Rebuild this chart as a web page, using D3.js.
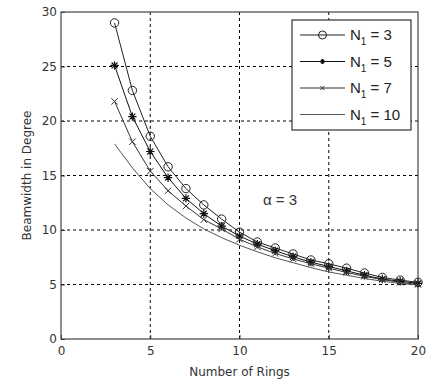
<!DOCTYPE html>
<html><head><meta charset="utf-8">
<script src="https://cdn.jsdelivr.net/npm/d3@7"></script>
<style>body{margin:0;background:#fff}svg{display:block}text{font-family:"Liberation Sans",Arial,sans-serif}</style>
</head><body>
<script>
const rings = [3,4,5,6,7,8,9,10,11,12,13,14,15,16,17,18,19,20];
const n1_3  = [29.0,22.8,18.6,15.8,13.8,12.3,11.0,9.8,8.9,8.35,7.8,7.25,6.9,6.5,6.05,5.65,5.4,5.2];
const n1_5  = [25.1,20.4,17.2,14.8,12.9,11.5,10.35,9.45,8.7,8.1,7.55,7.05,6.65,6.25,5.85,5.5,5.3,5.1];
const n1_7  = [21.8,18.1,15.4,13.6,12.2,10.95,10.1,9.15,8.45,7.85,7.35,6.9,6.5,6.1,5.75,5.45,5.2,5.0];
const n1_10 = [17.9,15.7,13.8,12.3,11.1,10.1,9.3,8.6,8.0,7.45,7.0,6.55,6.15,5.85,5.55,5.3,5.1,4.95];
const xTicks = [0,5,10,15,20];
const yTicks = [0,5,10,15,20,25,30];
const seriesNames = ["3","5","7","10"];
const alphaLabel = "α = 3";

const W=444,H=382, L=61,R=418,T=12,B=339;
const AF='"DejaVu Sans",Verdana,sans-serif';
const svg=d3.select("body").append("svg").attr("width",W).attr("height",H);
const x=d3.scaleLinear().domain([0,20]).range([L,R]);
const y=d3.scaleLinear().domain([0,30]).range([B,T]);

// grid
const g=svg.append("g");
g.selectAll(".gx").data(xTicks.slice(1,-1)).join("line")
 .attr("x1",d=>x(d)).attr("x2",d=>x(d)).attr("y1",T).attr("y2",B)
 .attr("stroke","#000").attr("stroke-width",1).attr("stroke-dasharray","3,3");
g.selectAll(".gy").data(yTicks.slice(1,-1)).join("line")
 .attr("y1",d=>y(d)).attr("y2",d=>y(d)).attr("x1",L).attr("x2",R)
 .attr("stroke","#000").attr("stroke-width",1).attr("stroke-dasharray","3,3");

// axes
const ax=svg.append("g").attr("transform",`translate(0,${B})`)
 .call(d3.axisBottom(x).tickValues(xTicks).tickSize(-4).tickPadding(7).tickFormat(d3.format("d")));
const ay=svg.append("g").attr("transform",`translate(${L},0)`)
 .call(d3.axisLeft(y).tickValues(yTicks).tickSize(-4).tickPadding(4).tickFormat(d3.format("d")));
[ax,ay].forEach(a=>{a.select(".domain").remove();
 a.selectAll("text").attr("font-size",12).attr("fill","#333").style("font-family",AF);
 a.selectAll(".tick line").attr("stroke","#333");});
svg.append("rect").attr("x",L).attr("y",T).attr("width",R-L).attr("height",B-T)
 .attr("fill","none").attr("stroke","#444").attr("stroke-width",1.2);

svg.append("text").attr("x",(L+R)/2).attr("y",376).attr("text-anchor","middle")
 .attr("font-size",12).attr("fill","#333").style("font-family",AF).text("Number of Rings");
svg.append("text").attr("transform",`translate(31,${(T+B)/2}) rotate(-90)`).attr("text-anchor","middle")
 .attr("font-size",12).attr("fill","#333").style("font-family",AF).text("Beamwidth in Degree");

const line=d3.line().x((d,i)=>x(rings[i])).y(d=>y(d)).curve(d3.curveLinear);
const series=[
 {v:n1_3,color:"#222",m:"o"},
 {v:n1_5,color:"#111",m:"*"},
 {v:n1_7,color:"#333",m:"x"},
 {v:n1_10,color:"#555",m:""}
];
function marker(sel,m,color,s){
 if(m==="o"){sel.append("circle").attr("r",s).attr("fill","none").attr("stroke",color).attr("stroke-width",1);}
 else if(m==="*"){
   const p=`M${-s},0L${s},0M0,${-s}L0,${s}M${-s*0.7},${-s*0.7}L${s*0.7},${s*0.7}M${-s*0.7},${s*0.7}L${s*0.7},${-s*0.7}`;
   sel.append("path").attr("d",p).attr("stroke",color).attr("stroke-width",1.2).attr("fill","none");}
 else if(m==="x"){
   const p=`M${-s},${-s}L${s},${s}M${-s},${s}L${s},${-s}`;
   sel.append("path").attr("d",p).attr("stroke",color).attr("stroke-width",1).attr("fill","none");}
}
series.forEach(s=>{
 svg.append("path").datum(s.v).attr("d",line).attr("fill","none").attr("stroke",s.color).attr("stroke-width",1);
 if(s.m){
  const sz = s.m==="o"?4.2:(s.m==="*"?4.2:3.2);
  svg.append("g").selectAll("g").data(s.v).join("g")
   .attr("transform",(d,i)=>`translate(${x(rings[i])},${y(d)})`)
   .each(function(){marker(d3.select(this),s.m,s.color,sz);});
 }
});

// legend
const lg=svg.append("g");
lg.append("rect").attr("x",292).attr("y",20).attr("width",119).attr("height",110)
 .attr("fill","#fff").attr("stroke","#333").attr("stroke-width",1.2);
const ly=[35,61.5,88,114.5];
series.forEach((s,i)=>{
 lg.append("line").attr("x1",300).attr("x2",345).attr("y1",ly[i]).attr("y2",ly[i])
  .attr("stroke",s.color).attr("stroke-width",1);
 if(s.m){const gg=lg.append("g").attr("transform",`translate(322.5,${ly[i]})`);
  marker(gg,s.m,s.color,s.m==="o"?4:(s.m==="*"?2.5:2));}
 const t=lg.append("text").attr("x",350).attr("y",ly[i]+5).attr("font-size",15).attr("fill","#222");
 t.append("tspan").text("N");
 t.append("tspan").attr("font-size",10).attr("dy",5).text("1");
 t.append("tspan").attr("dy",-5).text(" = "+seriesNames[i]);
});

svg.append("text").attr("x",263).attr("y",205).attr("font-size",15).attr("fill","#333").text(alphaLabel);
</script>
</body></html>
